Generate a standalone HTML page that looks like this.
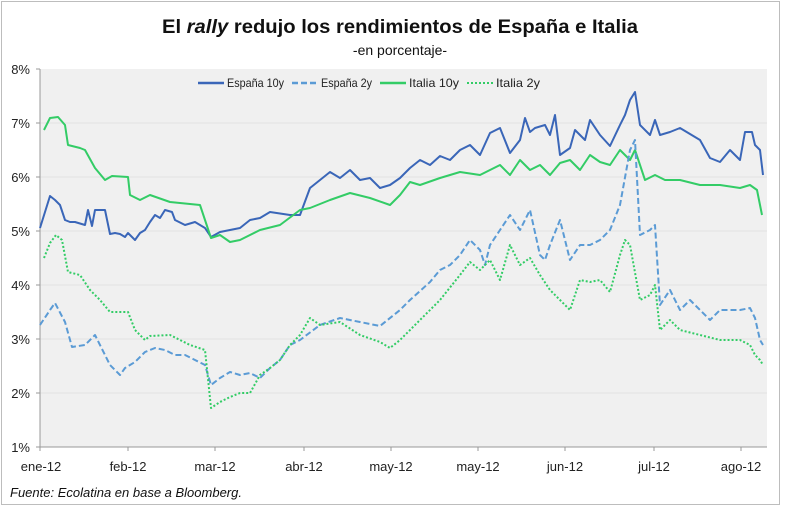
<!DOCTYPE html>
<html><head><meta charset="utf-8"><style>
html,body{margin:0;padding:0;background:#fff;width:800px;height:507px;overflow:hidden}
text{font-family:"Liberation Sans",sans-serif}
</style></head><body>
<svg width="800" height="507" viewBox="0 0 800 507" xmlns="http://www.w3.org/2000/svg">
<rect x="1.5" y="1.5" width="778" height="503" fill="#fff" stroke="#bdbdbd"/>
<rect x="40" y="69" width="727" height="378" fill="#f0f0f0"/>
<g stroke="#e2e2e2" stroke-width="1">
<line x1="40" x2="767" y1="123" y2="123"/><line x1="40" x2="767" y1="177" y2="177"/>
<line x1="40" x2="767" y1="231" y2="231"/><line x1="40" x2="767" y1="285" y2="285"/>
<line x1="40" x2="767" y1="339" y2="339"/><line x1="40" x2="767" y1="393" y2="393"/>
</g>
<g stroke="#999" stroke-width="1">
<line x1="40" x2="40" y1="69" y2="451"/><line x1="40" x2="767" y1="447" y2="447"/>
<line x1="36" x2="40" y1="69" y2="69"/><line x1="36" x2="40" y1="123" y2="123"/><line x1="36" x2="40" y1="177" y2="177"/><line x1="36" x2="40" y1="231" y2="231"/><line x1="36" x2="40" y1="285" y2="285"/><line x1="36" x2="40" y1="339" y2="339"/><line x1="36" x2="40" y1="393" y2="393"/><line x1="36" x2="40" y1="447" y2="447"/>
<line x1="128" x2="128" y1="447" y2="451"/><line x1="215" x2="215" y1="447" y2="451"/><line x1="304" x2="304" y1="447" y2="451"/><line x1="391" x2="391" y1="447" y2="451"/><line x1="478" x2="478" y1="447" y2="451"/><line x1="565" x2="565" y1="447" y2="451"/><line x1="654" x2="654" y1="447" y2="451"/><line x1="741" x2="741" y1="447" y2="451"/>
</g>
<g font-size="13" fill="#222" text-anchor="end">
<text x="30" y="74">8%</text><text x="30" y="128">7%</text><text x="30" y="182">6%</text><text x="30" y="236">5%</text><text x="30" y="290">4%</text><text x="30" y="344">3%</text><text x="30" y="398">2%</text><text x="30" y="452">1%</text>
</g>
<g font-size="13" fill="#222" text-anchor="middle">
<text x="41" y="471">ene-12</text><text x="128" y="471">feb-12</text><text x="215" y="471">mar-12</text><text x="304" y="471">abr-12</text><text x="391" y="471">may-12</text><text x="478" y="471">may-12</text><text x="565" y="471">jun-12</text><text x="654" y="471">jul-12</text><text x="741" y="471">ago-12</text>
</g>
<text x="400" y="33" font-size="19" font-weight="bold" text-anchor="middle" fill="#111" textLength="476" lengthAdjust="spacingAndGlyphs">El <tspan font-style="italic">rally</tspan> redujo los rendimientos de España e Italia</text>
<text x="400" y="55" font-size="14" text-anchor="middle" fill="#111">-en porcentaje-</text>
<text x="10" y="497" font-size="13" font-style="italic" fill="#111">Fuente: Ecolatina en base a Bloomberg.</text>
<g font-size="12" fill="#222">
<line x1="198" x2="224" y1="83" y2="83" stroke="#3a66b8" stroke-width="2.5"/><text x="227" y="87" textLength="57" lengthAdjust="spacingAndGlyphs">España 10y</text>
<line x1="292" x2="318" y1="83" y2="83" stroke="#5b9bd5" stroke-width="2.5" stroke-dasharray="6,3"/><text x="321" y="87" textLength="51" lengthAdjust="spacingAndGlyphs">España 2y</text>
<line x1="380" x2="406" y1="83" y2="83" stroke="#33cc66" stroke-width="2.5"/><text x="409" y="87" textLength="50" lengthAdjust="spacingAndGlyphs">Italia 10y</text>
<line x1="467" x2="493" y1="83" y2="83" stroke="#33cc66" stroke-width="2" stroke-dasharray="2,2"/><text x="496" y="87" textLength="44" lengthAdjust="spacingAndGlyphs">Italia 2y</text>
</g>
<g fill="none" stroke-linejoin="round">
<polyline stroke="#3a66b8" stroke-width="2" points="40,228 50,196 55,200 60,205 65,220 70,222 75,222 85,225 88,210 92,226 95,210 105,210 110,234 115,233 120,234 125,237 128,233 135,240 140,233 145,230 150,222 155,215 160,218 165,210 172,212 175,220 185,225 195,222 205,228 211,237 220,232 230,230 240,228 250,220 260,218 270,212 290,215 300,215 310,188 320,180 330,172 340,178 350,170 360,180 370,178 380,188 390,185 400,178 410,168 420,160 430,165 440,156 450,160 460,150 470,145 480,155 490,133 500,128 510,153 520,140 525,118 530,132 535,128 545,125 550,135 555,115 560,155 570,148 575,130 585,140 590,120 600,135 610,146 620,125 625,115 630,100 635,92 640,125 650,135 655,120 660,135 670,132 680,128 700,140 710,158 720,162 730,150 740,160 745,132 752,132 755,145 760,150 763,175"/>
<polyline stroke="#33cc66" stroke-width="2" points="44,130 50,118 58,117 65,125 68,145 80,148 85,150 95,168 105,180 112,176 128,177 130,195 140,200 150,195 170,202 200,205 211,238 220,235 230,242 240,240 260,230 280,225 300,210 310,208 330,200 350,193 370,198 390,205 400,195 410,182 420,185 440,178 460,172 480,175 500,165 510,175 520,160 530,170 540,165 550,175 560,163 570,160 580,170 590,155 600,162 610,165 620,150 630,160 635,150 645,180 655,175 665,180 680,180 700,185 720,185 740,188 750,185 757,190 762,215"/>
<polyline stroke="#5b9bd5" stroke-width="2" stroke-dasharray="6,3" points="40,325 50,310 55,303 65,322 72,347 85,345 95,335 110,365 120,375 125,368 135,362 145,352 155,348 165,350 175,355 185,355 195,360 205,365 211,385 220,378 230,372 240,375 250,373 260,378 270,368 280,360 290,345 300,340 320,325 340,318 360,322 380,326 400,310 410,300 430,282 440,270 450,265 460,255 470,240 480,250 485,265 490,245 500,230 510,215 520,230 530,210 540,255 545,260 550,245 560,220 570,260 580,245 590,245 600,240 610,230 620,205 630,150 635,140 640,235 650,230 655,225 660,305 670,290 680,310 690,300 700,310 710,320 720,310 740,310 750,308 755,318 760,340 763,345"/>
<polyline stroke="#33cc66" stroke-width="2" stroke-dasharray="2,2" points="44,258 50,243 56,235 62,240 68,272 80,275 90,290 100,300 110,312 128,312 135,330 145,340 150,336 170,335 190,345 205,350 211,408 220,402 230,397 240,393 250,393 260,375 270,368 280,360 290,345 300,335 310,318 320,325 340,322 360,335 380,342 390,348 400,340 410,330 420,320 440,300 460,275 470,262 480,270 490,260 500,280 510,245 520,265 530,258 540,275 550,290 560,300 570,310 575,295 580,280 590,282 600,280 610,292 620,255 625,240 630,245 640,300 650,295 655,285 660,330 670,320 680,330 700,335 720,340 740,340 750,345 755,355 760,360 763,365"/>
</g>
</svg>
</body></html>
